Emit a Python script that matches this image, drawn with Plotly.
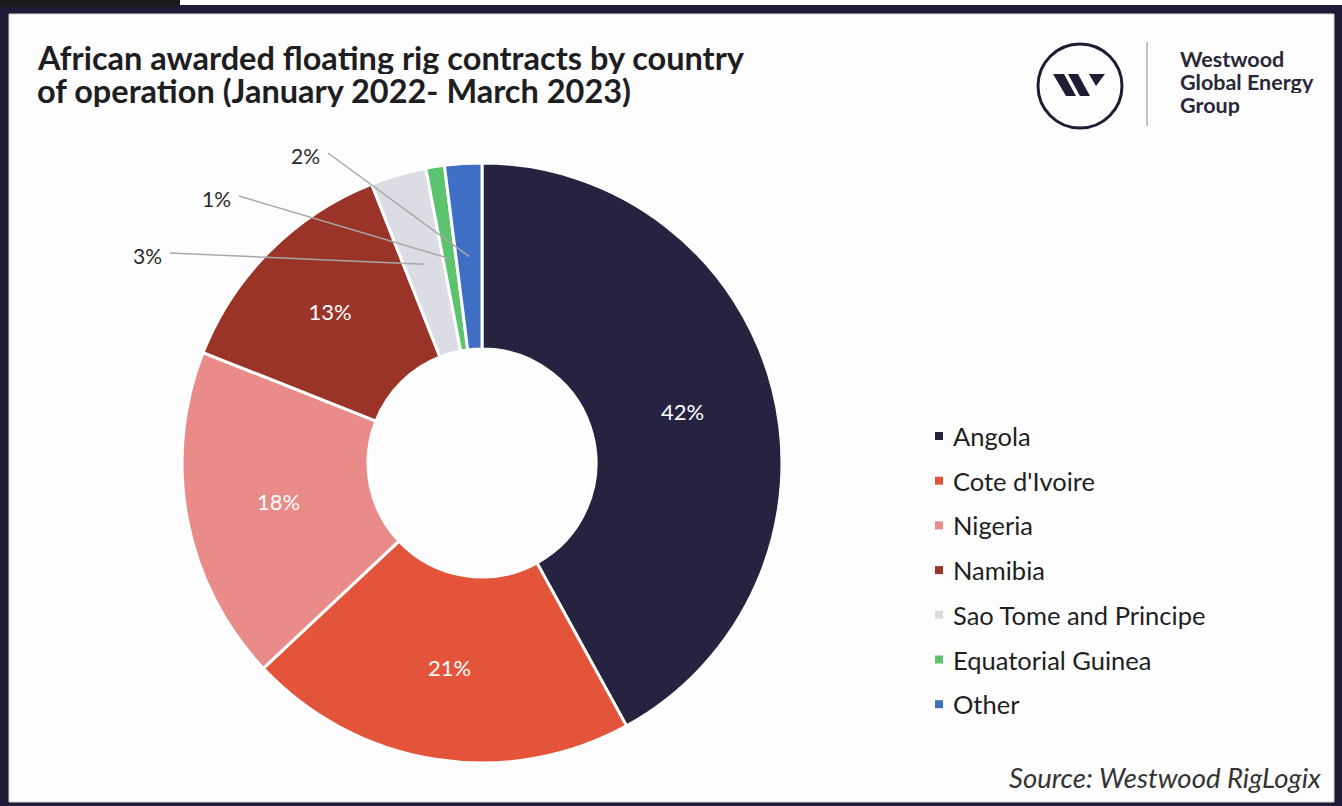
import math
import plotly.graph_objects as go

W, H = 1342, 806

# ---- data -------------------------------------------------------------
countries = ["Angola", "Cote d'Ivoire", "Nigeria", "Namibia",
             "Sao Tome and Principe", "Equatorial Guinea", "Other"]
shares = [42, 21, 18, 13, 3, 1, 2]          # % of awarded contracts
colors = ["#25233f", "#e4543a", "#e98b89", "#9b3428",
          "#dcdde4", "#5cc36f", "#3f6fc5"]

title_lines = ["African awarded floating rig contracts by country",
               "of operation (January 2022- March 2023)"]
brand_lines = ["Westwood", "Global Energy", "Group"]
source_text = "Source: Westwood RigLogix"

INSIDE_MIN = 10   # slices this big or bigger carry their label inside
# callout label anchors (pixels) for the small slices, keyed by category
callout_pos = {"Sao Tome and Principe": (147, 255),
               "Equatorial Guinea": (216, 198),
               "Other": (305, 155)}


def px(x):
    return x / W


def py(y):
    return 1 - y / H


# ---- donut ----------------------------------------------------------------
CX, CY, R = 482, 463, 300
HOLE = 0.38

fig = go.Figure(go.Pie(
    labels=countries,
    values=shares,
    sort=False,
    direction="clockwise",
    rotation=0,
    hole=HOLE,
    marker=dict(colors=colors, line=dict(color="white", width=3)),
    texttemplate=["%{value}%" if v >= INSIDE_MIN else "" for v in shares],
    textposition="inside",
    insidetextorientation="horizontal",
    insidetextfont=dict(family="Lato", size=22, color="white"),
    domain=dict(x=[px(CX - R), px(CX + R)], y=[py(CY + R), py(CY - R)]),
    showlegend=False,
    hovertemplate="%{label}: %{value}%<extra></extra>",
))

shapes = []
annotations = []

# frame
shapes.append(dict(type="rect", xref="paper", yref="paper", layer="below",
                   x0=0, x1=1, y0=0, y1=py(5), fillcolor="#1d1b35",
                   line=dict(width=0)))
shapes.append(dict(type="rect", xref="paper", yref="paper", layer="below",
                   x0=px(9), x1=px(1334), y0=py(802), y1=py(14),
                   fillcolor="#fdfdfd", line=dict(color="#d6d6dc", width=1)))
shapes.append(dict(type="rect", xref="paper", yref="paper", layer="below",
                   x0=0, x1=px(180), y0=py(7), y1=1, fillcolor="#1b1b1d",
                   line=dict(width=0)))

# callouts for the small slices, leader lines end mid-ring at slice centre
total = sum(shares)
r_mid = R * (1 + HOLE) / 2
cum = 0
for name, v in zip(countries, shares):
    mid = (cum + v / 2) / total * 2 * math.pi
    cum += v
    if name not in callout_pos:
        continue
    lx, ly = callout_pos[name]
    ex = CX + r_mid * math.sin(mid)
    ey = CY - r_mid * math.cos(mid)
    shapes.append(dict(type="line", xref="paper", yref="paper",
                       x0=px(lx + 23), y0=py(ly - 2), x1=px(ex), y1=py(ey),
                       line=dict(color="#a8a8a8", width=1.5)))
    annotations.append(dict(text=f"{v}%", x=px(lx), y=py(ly),
                            xref="paper", yref="paper", showarrow=False,
                            xanchor="center", yanchor="middle",
                            font=dict(family="Lato", size=21, color="#2b2b2b")))

# legend
LEG_X, LEG_Y0, LEG_DY = 939, 436, 44.7
for i, (name, c) in enumerate(zip(countries, colors)):
    yc = LEG_Y0 + i * LEG_DY
    shapes.append(dict(type="rect", xref="paper", yref="paper",
                       x0=px(LEG_X - 4), x1=px(LEG_X + 4),
                       y0=py(yc + 4), y1=py(yc - 4),
                       fillcolor=c, line=dict(width=0)))
    annotations.append(dict(text=name, x=px(951), y=py(yc), xref="paper",
                            yref="paper", showarrow=False, xanchor="left",
                            yanchor="middle",
                            font=dict(family="Lato", size=25.5, color="#1f1f1f")))

# title (two lines set on a tight 33 px leading)
for i, line in enumerate(title_lines):
    annotations.append(dict(text=f"<b>{line}</b>", x=px(35), y=py(57 + i * 33),
                            xref="paper", yref="paper", showarrow=False,
                            xanchor="left", yanchor="middle", height=33,
                            font=dict(family="Lato", size=32.5, color="#1e1e22")))

# logo: ring, monogram, divider and wordmark
shapes.append(dict(type="circle", xref="paper", yref="paper",
                   x0=px(1038), x1=px(1122), y0=py(128), y1=py(44),
                   line=dict(color="#1f1d33", width=3)))
monogram = [
    [(1053, 74), (1064, 74), (1076, 96), (1066, 96)],
    [(1068, 74), (1078, 74), (1090, 96), (1080, 96)],
    [(1089, 74), (1105, 74), (1096, 86)],
]


def poly_path(pts):
    return "M " + " L ".join(f"{px(x):.5f},{py(y):.5f}" for x, y in pts) + " Z"


for pts in monogram:
    shapes.append(dict(type="path", xref="paper", yref="paper",
                       path=poly_path(pts), fillcolor="#1f1d33",
                       line=dict(width=0)))
shapes.append(dict(type="line", xref="paper", yref="paper",
                   x0=px(1147), x1=px(1147), y0=py(42), y1=py(126),
                   line=dict(color="#c9c1be", width=2)))
for i, line in enumerate(brand_lines):
    annotations.append(dict(text=f"<b>{line}</b>", x=px(1178), y=py(59 + i * 23),
                            xref="paper", yref="paper", showarrow=False,
                            xanchor="left", yanchor="middle", height=23,
                            font=dict(family="Lato", size=21.5, color="#2a2838")))

# source
annotations.append(dict(text=f"<i>{source_text}</i>", x=px(1323), y=py(777),
                        xref="paper", yref="paper", showarrow=False,
                        xanchor="right", yanchor="middle",
                        font=dict(family="Lato", size=27.5, color="#333333")))

fig.update_layout(
    width=W, height=H,
    margin=dict(l=0, r=0, t=0, b=0),
    paper_bgcolor="white",
    plot_bgcolor="white",
    shapes=shapes,
    annotations=annotations,
)

fig.write_html("out.html")
